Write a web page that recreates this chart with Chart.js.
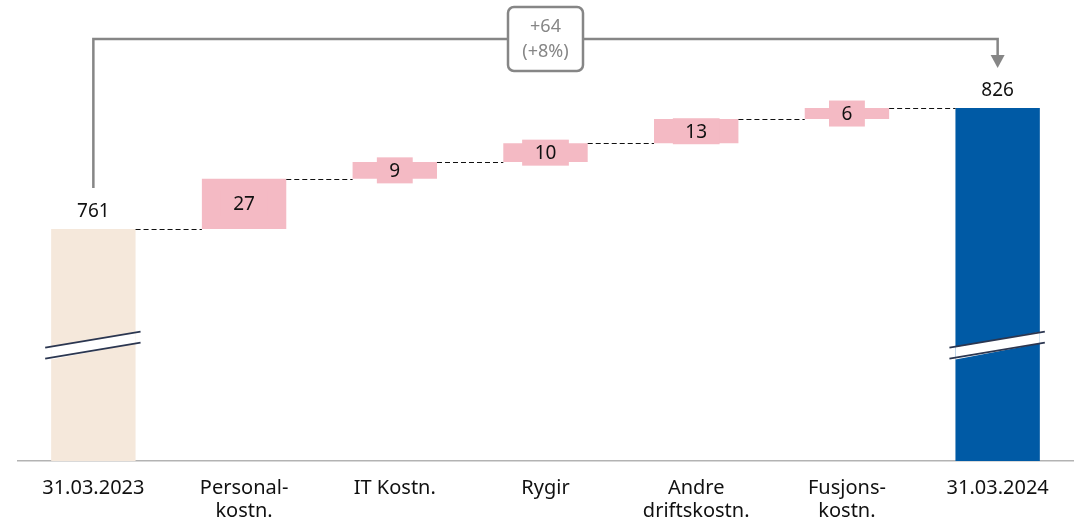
<!DOCTYPE html>
<html>
<head>
<meta charset="utf-8">
<script src="https://cdn.jsdelivr.net/npm/chart.js@4/dist/chart.umd.min.js"></script>
<style>
  html, body { margin: 0; padding: 0; background: #fff; }
  #wrap { width: 1081px; height: 519px; }
</style>
</head>
<body>
<div id="wrap"><canvas id="js-canvas-waterfall"></canvas></div>
<script>
// categories along the x-axis
const labels = [
  ['31.03.2023'],
  ['Personal-', 'kostn.'],
  ['IT Kostn.'],
  ['Rygir'],
  ['Andre', 'driftskostn.'],
  ['Fusjons-', 'kostn.'],
  ['31.03.2024']
];
const startValue = 761;
const changes = [27, 9, 10, 13, 6];
const endValue = 826;
const deltaText = ['+64', '(+8%)'];
// axis is cut (broken) – it does not start at zero
const axisMin = 636.5;
const axisMax = 841;
const breakValue = 699;

const FONT = '"Noto Sans", sans-serif';
const colStart = '#F5E8DB';
const colChange = '#F4BAC4';
const colEnd = '#005AA5';

// build floating bars
const bars = [[axisMin, startValue]];
let run = startValue;
changes.forEach(c => { bars.push([run, run + c]); run += c; });
bars.push([axisMin, endValue]);
const colors = [colStart].concat(changes.map(() => colChange), [colEnd]);
const valueText = [startValue].concat(changes, [endValue]).map(String);

const waterfallPlugin = {
  id: 'waterfall',
  afterDatasetsDraw(chart) {
    const ctx = chart.ctx;
    const y = chart.scales.y;
    const els = chart.getDatasetMeta(0).data;
    const last = els.length - 1;

    ctx.save();
    // dashed connectors
    ctx.strokeStyle = '#111';
    ctx.lineWidth = 1.2;
    ctx.setLineDash([5, 3]);
    for (let i = 0; i < last; i++) {
      const a = els[i], b = els[i + 1];
      const yy = Math.round(y.getPixelForValue(bars[i][1])) + 0.5;
      ctx.beginPath();
      ctx.moveTo(a.x + a.width / 2, yy);
      ctx.lineTo(b.x - b.width / 2, yy);
      ctx.stroke();
    }
    ctx.setLineDash([]);

    // break marks on the two total bars
    [0, last].forEach(i => {
      const el = els[i];
      const x0 = el.x - el.width / 2 - 6, x1 = el.x + el.width / 2 + 5;
      const yc = y.getPixelForValue(breakValue);
      const up = [yc + 3, yc - 13];
      const lo = [yc + 14, yc - 2];
      ctx.fillStyle = '#fff';
      ctx.beginPath();
      ctx.moveTo(x0 + 6, up[0] - 0.5);
      ctx.lineTo(x1 - 5, up[1] + 0.5);
      ctx.lineTo(x1 - 5, lo[1] + 1);
      ctx.lineTo(x0 + 6, lo[0] + 1);
      ctx.closePath();
      ctx.fill();
      ctx.strokeStyle = '#2B3650';
      ctx.lineWidth = 1.8;
      [up, lo].forEach(p => {
        ctx.beginPath();
        ctx.moveTo(x0, p[0]);
        ctx.lineTo(x1, p[1]);
        ctx.stroke();
      });
    });

    // value labels
    ctx.font = '19px ' + FONT;
    ctx.textAlign = 'center';
    ctx.textBaseline = 'middle';
    els.forEach((el, i) => {
      const txt = valueText[i];
      if (i === 0 || i === last) {
        ctx.fillStyle = '#111';
        ctx.fillText(txt, el.x, y.getPixelForValue(bars[i][1]) - 17);
      } else {
        const yc = (y.getPixelForValue(bars[i][0]) + y.getPixelForValue(bars[i][1])) / 2;
        const w = ctx.measureText(txt).width + 25;
        ctx.fillStyle = colChange;
        ctx.fillRect(el.x - w / 2, yc - 13, w, 26);
        ctx.fillStyle = '#111';
        ctx.fillText(txt, el.x, yc + 1);
      }
    });

    // bracket with total change
    const xa = els[0].x, xb = els[last].x;
    const yTop = chart.chartArea.top - 41;
    ctx.strokeStyle = '#868686';
    ctx.lineWidth = 2.5;
    ctx.beginPath();
    ctx.moveTo(xa, y.getPixelForValue(startValue) - 41);
    ctx.lineTo(xa, yTop);
    ctx.lineTo(xb, yTop);
    ctx.lineTo(xb, y.getPixelForValue(endValue) - 52);
    ctx.stroke();
    const tip = y.getPixelForValue(endValue) - 40;
    ctx.fillStyle = '#868686';
    ctx.beginPath();
    ctx.moveTo(xb - 7, tip - 13);
    ctx.lineTo(xb + 7, tip - 13);
    ctx.lineTo(xb, tip);
    ctx.closePath();
    ctx.fill();

    const bx = (xa + xb) / 2, bw = 75, bh = 64;
    ctx.fillStyle = '#fff';
    ctx.beginPath();
    ctx.roundRect(bx - bw / 2, yTop - bh / 2, bw, bh, 6);
    ctx.fill();
    ctx.stroke();
    ctx.fillStyle = '#868686';
    ctx.font = '18px ' + FONT;
    ctx.fillText(deltaText[0], bx, yTop - 12);
    ctx.fillText(deltaText[1], bx, yTop + 13);
    ctx.restore();
  }
};

new Chart(document.getElementById('js-canvas-waterfall'), {
  type: 'bar',
  data: {
    labels: labels,
    datasets: [{
      data: bars,
      backgroundColor: colors,
      borderWidth: 0,
      categoryPercentage: 1,
      barPercentage: 0.56
    }]
  },
  options: {
    responsive: true,
    maintainAspectRatio: false,
    animation: false,
    layout: { padding: { left: 18, right: 8, top: 80, bottom: 0 } },
    plugins: { legend: { display: false }, tooltip: { enabled: false } },
    scales: {
      x: {
        grid: { display: false, drawTicks: false },
        border: { color: '#b3b3b3', width: 1.5 },
        ticks: {
          color: '#111',
          padding: 16,
          maxRotation: 0,
          autoSkip: false,
          font: { family: FONT, size: 20, lineHeight: 1.15 }
        },
        afterFit(scale) { scale.height = 58; }
      },
      y: {
        display: false,
        min: axisMin,
        max: axisMax
      }
    }
  },
  plugins: [waterfallPlugin]
});
</script>
</body>
</html>
